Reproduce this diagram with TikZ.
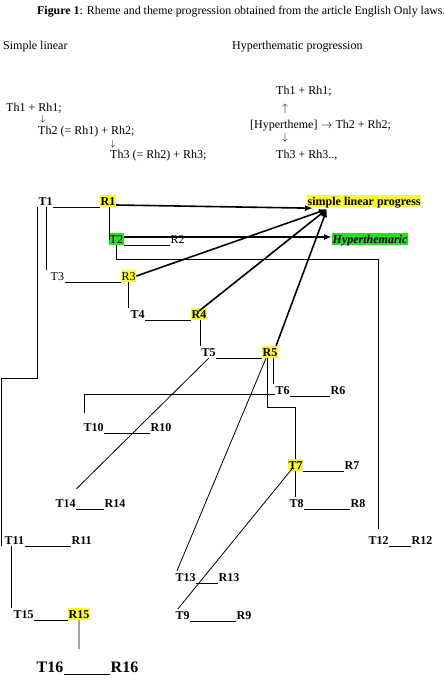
\documentclass[tikz,border=0pt]{standalone}
\usepackage{fontspec}
\setmainfont{Liberation Serif}
\usetikzlibrary{arrows.meta}
\definecolor{hlyel}{RGB}{250,250,50}
\definecolor{hlgrn}{RGB}{40,220,40}
\begin{document}
\begin{tikzpicture}[x=1pt,y=-1pt,
  lbl/.style={font=\fontsize{12}{14}\selectfont\bfseries, text height=8pt, text depth=0pt, inner xsep=0.5pt, inner ysep=2pt, anchor=base west},
  lblr/.style={lbl, font=\fontsize{12}{14}\selectfont},
  big/.style={lbl, font=\fontsize{16}{18}\selectfont\bfseries, text height=11pt},
  yel/.style={fill=hlyel},
  grn/.style={fill=hlgrn},
  txt/.style={font=\fontsize{12}{14}\selectfont, anchor=base west, inner sep=0pt},
  glyph/.style={font=\fontsize{11}{12}\selectfont, inner sep=0pt, text height=6pt, text depth=1pt},
  conn/.style={line width=0.8pt},
  arr/.style={line width=1.6pt, -{Latex[length=8pt,width=6pt]}}
]
\fill[white] (0,0) rectangle (444,689);
\useasboundingbox (0,0) rectangle (444,689);

% header texts
\node[txt, font=\fontsize{11.9}{13}\selectfont] (title) at (37,14) {\textbf{Figure 1}: Rheme and theme progression obtained from the article English Only laws.};
\node[txt] (simple) at (3,49) {Simple linear};
\node[txt] (hyperp) at (232,49) {Hyperthematic progression};

\node[txt] (l1) at (6,111) {Th1 + Rh1;};
\node[glyph, font=\fontsize{9}{10}\selectfont, text height=5pt] (la1) at (43,119.5) {$\downarrow$};
\node[txt] (l2) at (38,134) {Th2 (= Rh1) + Rh2;};
\node[glyph, font=\fontsize{9}{10}\selectfont, text height=5pt] (la2) at (113,144) {$\downarrow$};
\node[txt] (l3) at (110,158) {Th3 (= Rh2) + Rh3;};

\node[txt] (h1) at (276,94) {Th1 + Rh1;};
\node[glyph] (ha1) at (285,109) {$\uparrow$};
\node[txt] (h2) at (250,128) {[Hypertheme] $\rightarrow$ Th2 + Rh2;};
\node[glyph] (ha2) at (285,138) {$\downarrow$};
\node[txt] (h3) at (276,158) {Th3 + Rh3..,};

% labels
\node[lbl] (T1) at (38,205) {T1};
\node[lbl,yel] (R1) at (100,205) {R1};
\node[lblr,grn] (T2) at (109,243) {T2};
\node[lblr] (R2) at (170,243) {R2};
\node[lblr] (T3) at (50,280) {T3};
\node[lblr,yel] (R3) at (121,280) {R3};
\node[lbl] (T4) at (130,318) {T4};
\node[lbl,yel] (R4) at (191,318) {R4};
\node[lbl] (T5) at (201,356) {T5};
\node[lbl,yel] (R5) at (262,356) {R5};
\node[lbl] (T6) at (275,394) {T6};
\node[lbl] (R6) at (330,394) {R6};
\node[lbl] (T10) at (83,431) {T10};
\node[lbl] (R10) at (150,431) {R10};
\node[lbl,yel] (T7) at (288,469) {T7};
\node[lbl] (R7) at (344,469) {R7};
\node[lbl] (T8) at (289,507) {T8};
\node[lbl] (R8) at (350,507) {R8};
\node[lbl] (T14) at (55,507) {T14};
\node[lbl] (R14) at (104,507) {R14};
\node[lbl] (T11) at (4,544) {T11};
\node[lbl] (R11) at (71,544) {R11};
\node[lbl] (T12) at (368,544) {T12};
\node[lbl] (R12) at (411,544) {R12};
\node[lbl] (T13) at (175,581) {T13};
\node[lbl] (R13) at (218,581) {R13};
\node[lbl] (T9) at (175,619) {T9};
\node[lbl] (R9) at (236,619) {R9};
\node[lbl] (T15) at (13,618) {T15};
\node[lbl,yel] (R15) at (68,618) {R15};
\node[big] (T16) at (36,672) {T16};
\node[big] (R16) at (110,672) {R16};
\node[lbl,yel] (slp) at (307,205) {simple linear progress};
\node[lbl,grn,font=\fontsize{12}{14}\selectfont\bfseries\itshape] (hyp) at (332,243) {Hyperthemaric};

% helper coordinates
\coordinate (b1) at (37,378);
\coordinate (stub) at (79,649);
\path ([xshift=1pt]T1.south) coordinate (t1a);
\path ([xshift=1.5pt]R1.south) coordinate (r1a);
\path ([xshift=1.5pt]R4.south) coordinate (r4a);
\path ([xshift=3pt]R5.south) coordinate (r5b);
\path ([xshift=-3pt]R5.south) coordinate (r5a);
\path ([xshift=-3pt]T11.south) coordinate (t11a);
\path ([xshift=20pt,yshift=-2pt]slp.south west) coordinate (hub);

% underlines T--R
\foreach \a/\b in {T1/R1,T2/R2,T3/R3,T4/R4,T5/R5,T6/R6,T10/R10,T7/R7,T8/R8,T14/R14,T11/R11,T12/R12,T13/R13,T9/R9,T15/R15,T16/R16}
  \draw[conn] (\a.south east) -- (\b.south west);

% thin connectors
\draw[conn] ([xshift=-1pt]T1.south west) -- (b1) -| ([xshift=-3pt]T11.south west);
\draw[conn] (t1a) -- (t1a |- T3.north);
\draw[conn] (r1a) |- (T2.west);
\draw[conn] (T2.south) -- ++(0,14) -| ([yshift=5pt]T12.north);
\draw[conn] (R3.south) -- (R3.south |- T4.north);
\draw[conn] (r4a) -- (r4a |- T5.north);
\draw[conn] (r5b) -- (r5b |- T6.north);
\draw[conn] (r5a) -- ++(0,49) -| (T7.north);
\draw[conn] ([xshift=-4pt]R5.south) -- ([xshift=2pt]T13.north west);
\draw[conn] ([yshift=2pt]T6.south west) -| ([shift={(1pt,8pt)}]T10.north west);
\draw[conn] (T5.south) -- ([yshift=8pt]T14.north east);
\draw[conn] (T7.south) -- (T7.south |- T8.north);
\draw[conn] ([xshift=-4pt,yshift=2pt]T7.south) -- ([xshift=3pt]T9.north west);
\draw[conn] (t11a) -- (t11a |- T15.north);
\draw[conn] (R15.south) -- (stub);

% thick arrows
\draw[arr] ([yshift=-4pt]R1.east) -- ([xshift=6pt,yshift=-1pt]slp.south west);
\draw[arr] (R3.east) -- (hub);
\draw[arr] ([yshift=3pt]R4.center) -- (hub);
\draw[arr] ([xshift=-2pt]R5.north east) -- (hub);
\draw[arr] ([yshift=2pt]T2.east) -- ([yshift=2pt]hyp.west);
\end{tikzpicture}
\end{document}
